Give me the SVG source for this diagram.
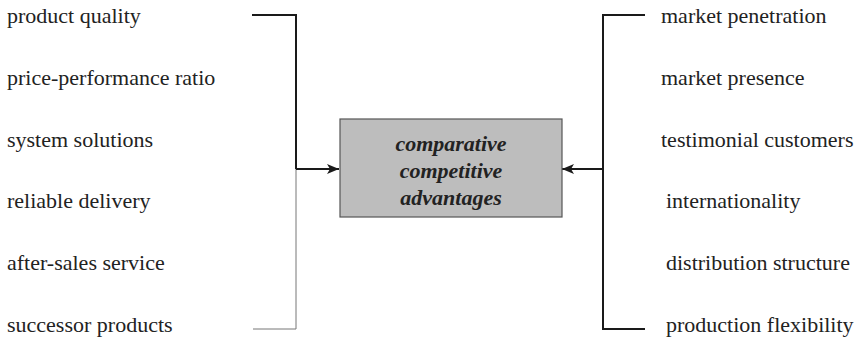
<svg xmlns="http://www.w3.org/2000/svg" width="859" height="344" viewBox="0 0 859 344">
  <style>
    .lbl { font-size: 22px; fill: #222; }
    .core { font-size: 22px; fill: #222; font-weight: bold; font-style: italic; text-anchor: middle; }
    .thick { stroke: #1a1a1a; stroke-width: 2; fill: none; }
    .thin { stroke: #777; stroke-width: 1; fill: none; }
  </style>
  <defs>
    <marker id="head" viewBox="0 0 12 10" refX="12" refY="5" markerWidth="12" markerHeight="10" markerUnits="userSpaceOnUse" orient="auto">
      <path d="M0,0 L12,5 L0,10 L3,5 Z" fill="#1a1a1a"/>
    </marker>
  </defs>

  <rect width="859" height="344" fill="#fff"/>

  <!-- connectors -->
  <g id="connectors">
    <!-- left bracket -->
    <path class="thick" d="M252,15 H296 V169"/>
    <path class="thin" d="M296,169 V329 H253"/>
    <path class="thick" d="M296,169 H339" marker-end="url(#head)"/>
    <!-- right bracket -->
    <path class="thick" d="M645,15 H603 V329 H645"/>
    <path class="thick" d="M603,169 H562" marker-end="url(#head)"/>
  </g>

  <g font-family="Liberation Serif">
    <!-- central node -->
    <g id="advantages">
      <rect x="340" y="119" width="222" height="98" fill="#bdbdbd" stroke="#555" stroke-width="1.2"/>
      <text class="core" x="451" y="151">comparative</text>
      <text class="core" x="451" y="178">competitive</text>
      <text class="core" x="451" y="205">advantages</text>
    </g>

    <!-- left factors -->
    <g id="product-quality"><text class="lbl" x="7" y="23">product quality</text></g>
    <g id="price-performance"><text class="lbl" x="7" y="85">price-performance ratio</text></g>
    <g id="system-solutions"><text class="lbl" x="7" y="147">system solutions</text></g>
    <g id="reliable-delivery"><text class="lbl" x="7" y="208">reliable delivery</text></g>
    <g id="after-sales"><text class="lbl" x="7" y="270">after-sales service</text></g>
    <g id="successor-products"><text class="lbl" x="7" y="332">successor products</text></g>

    <!-- right factors -->
    <g id="market-penetration"><text class="lbl" x="661" y="23">market penetration</text></g>
    <g id="market-presence"><text class="lbl" x="661" y="85">market presence</text></g>
    <g id="testimonial-customers"><text class="lbl" x="661" y="147">testimonial customers</text></g>
    <g id="internationality"><text class="lbl" x="666" y="208">internationality</text></g>
    <g id="distribution-structure"><text class="lbl" x="666" y="270">distribution structure</text></g>
    <g id="production-flexibility"><text class="lbl" x="666" y="332">production flexibility</text></g>
  </g>
</svg>
